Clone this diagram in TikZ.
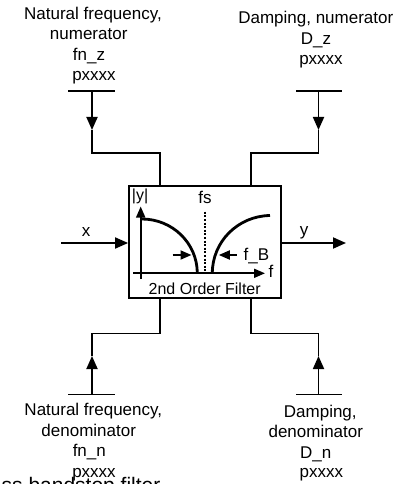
\documentclass[tikz,border=0pt]{standalone}
\usepackage{fontspec}
\setmainfont{Liberation Sans}
\usetikzlibrary{arrows.meta}
\begin{document}
\begin{tikzpicture}[x=1pt,y=-1pt,
  wire/.style={line width=1.8pt},
  tipbig/.style={-{Triangle[length=13pt,width=11pt]}},
  tipsmall/.style={-{Triangle[length=11pt,width=9pt]}},
  lbl/.style={font=\fontsize{17}{20}\selectfont, inner sep=0pt, anchor=base},
  inlbl/.style={font=\fontsize{16}{19}\selectfont, inner sep=0pt, anchor=base},
  curve/.style={line width=2.8pt},
]
\useasboundingbox (0,0) rectangle (401,484);
\clip (0,0) rectangle (401,484);

% main block
\node[draw, line width=1.8pt, minimum width=152pt, minimum height=112pt, inner sep=0pt] (box) at (205,242) {};

% top-left input
\coordinate (tlL) at (68,91); \coordinate (tlR) at (115,91);
\coordinate (tlS) at (92,91); \coordinate (tlA) at (92,130);
\coordinate (tlK) at (92,153); \coordinate (tlB) at (160,186);
\draw[wire] (tlL) -- (tlR);
\draw[wire,tipbig] (tlS) -- (tlA);
\draw[wire] (tlA) -- (tlK) -| (tlB);

% top-right input
\coordinate (trL) at (296,91); \coordinate (trR) at (342,91);
\coordinate (trS) at (318.5,91); \coordinate (trA) at (318.5,130);
\coordinate (trK) at (318.5,153); \coordinate (trB) at (251,186);
\draw[wire] (trL) -- (trR);
\draw[wire,tipbig] (trS) -- (trA);
\draw[wire] (trA) -- (trK) -| (trB);

% bottom-left input
\coordinate (blL) at (68,394.5); \coordinate (blR) at (115,394.5);
\coordinate (blS) at (92,394.5); \coordinate (blA) at (92,356);
\coordinate (blK) at (92,333.5); \coordinate (blB) at (160,298);
\draw[wire] (blL) -- (blR);
\draw[wire,tipbig] (blS) -- (blA);
\draw[wire] (blA) -- (blK) -| (blB);

% bottom-right input
\coordinate (brL) at (296,394.5); \coordinate (brR) at (342,394.5);
\coordinate (brS) at (318.5,394.5); \coordinate (brA) at (318.5,356);
\coordinate (brK) at (318.5,333.5); \coordinate (brB) at (251,298);
\draw[wire] (brL) -- (brR);
\draw[wire,tipbig] (brS) -- (brA);
\draw[wire] (brA) -- (brK) -| (brB);

% signal in / out
\coordinate (xin) at (61,243);
\coordinate (yout) at (346,243);
\draw[wire,tipbig] (xin) -- (xin -| box.west);
\draw[wire,tipbig] (yout -| box.east) -- (yout);
\node[lbl] (xl) at (86,236.7) {x};
\node[lbl] (yl) at (304,235.5) {y};

% plot icon inside the block
\draw[wire,tipsmall] (140.7,279) -- (140.7,206.5);
\draw[wire,tipsmall] (133,273.3) -- (265,273.3);
\draw[line width=1.3pt, dash pattern=on 2pt off 1.6pt] (205,211.7) -- (205,273);
\draw[curve] (142,219) .. controls (172.4,219) and (197.3,243.2) .. (197.3,273.3);
\draw[curve] (212.3,273.3) .. controls (212.3,241.5) and (238,216) .. (270,215.5);
\draw[wire,tipsmall] (172.7,255) -- (191.5,255);
\draw[wire,tipsmall] (236.7,255) -- (218.8,255);
\node[inlbl] (ay) at (140,200) {|y|};
\node[lbl] (fs) at (205,203.3) {fs};
\node[lbl] (fx) at (271,277.3) {f};
\node[lbl, anchor=base west] (fb) at (243.5,260.5) {f\_B};
\node[inlbl] (title) at (204.7,294.6) {2nd Order Filter};

% parameter labels
\node[lbl] (tl1) at (93,19.3) {Natural frequency,};
\node[lbl] (tl2) at (88.7,39.5) {numerator};
\node[lbl] (tl3) at (89,61) {fn\_z};
\node[lbl] (tl4) at (94,80.8) {pxxxx};

\node[lbl] (tr1) at (315.8,24) {Damping, numerator};
\node[lbl] (tr2) at (316,44.3) {D\_z};
\node[lbl] (tr3) at (321,64.5) {pxxxx};

\node[lbl] (bl1) at (93.3,415.7) {Natural frequency,};
\node[lbl] (bl2) at (88.7,436.3) {denominator};
\node[lbl] (bl3) at (89.3,456.7) {fn\_n};
\node[lbl] (bl4) at (94,477) {pxxxx};

\node[lbl] (br1) at (320.3,417) {Damping,};
\node[lbl] (br2) at (315.8,437.3) {denominator};
\node[lbl] (br3) at (315.8,458) {D\_n};
\node[lbl] (br4) at (321.3,477.3) {pxxxx};

% caption cut off at the lower edge
\node[font=\fontsize{21}{24}\selectfont, inner sep=0pt, anchor=base west] (cut) at (1.5,492) {ss bandstop filter};
\end{tikzpicture}
\end{document}
